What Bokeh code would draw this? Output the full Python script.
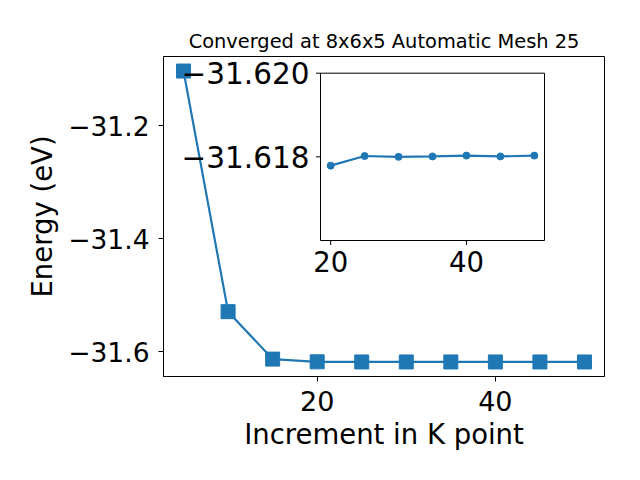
from bokeh.plotting import figure
from bokeh.models import Range1d, FixedTicker, CustomJSTickFormatter
from bokeh.embed import file_html
from bokeh.resources import INLINE
from bokeh.core.properties import value

# ---------------- data ----------------
kpoints = [5, 10, 15, 20, 25, 30, 35, 40, 45, 50]
energy = [-31.103, -31.529, -31.613, -31.61779, -31.61802, -31.61800,
          -31.61801, -31.61803, -31.61801, -31.61803]
inset_k = [20, 25, 30, 35, 40, 45, 50]
inset_energy = [-31.61779, -31.61802, -31.61800, -31.61801, -31.61803,
                -31.61801, -31.61803]

main_xticks = [20, 40]
main_yticks = [-31.6, -31.4, -31.2]
inset_xticks = [20, 40]
inset_xtick_labels = ["20", "40"]
inset_yticks = [-31.620, -31.618]
inset_ytick_labels = ["\u221231.620", "\u221231.618"]

title_text = "Converged at 8x6x5 Automatic Mesh 25"
xlabel = "Increment in K point"
ylabel = "Energy (eV)"

BLUE = "#1f77b4"
FONT = "DejaVu Sans"

# ---------------- layout ----------------
FW, FH = 441, 320


def padded(lo, hi, frac=0.05):
    s = hi - lo
    return lo - frac * s, hi + frac * s


x0, x1 = padded(min(kpoints), max(kpoints))
y0, y1 = padded(min(energy), max(energy))

p = figure(frame_width=FW, frame_height=FH,
           min_border_left=163, min_border_right=28,
           min_border_top=56, min_border_bottom=96,
           x_range=Range1d(x0, x1), y_range=Range1d(y0, y1),
           output_backend="svg", toolbar_location=None,
           title=title_text)

p.background_fill_color = "white"
p.border_fill_color = "white"
p.outline_line_color = "black"
p.outline_line_width = 1
p.grid.visible = False

p.title.text_font = FONT
p.title.text_font_size = "19.4px"
p.title.text_font_style = "normal"
p.title.text_color = "black"
p.title.align = "center"
p.title.standoff = 8

for ax in (p.xaxis[0], p.yaxis[0]):
    ax.axis_line_color = "black"
    ax.major_tick_line_color = "black"
    ax.major_tick_out = 5
    ax.major_tick_in = 0
    ax.minor_tick_line_color = None
    ax.major_label_text_font = FONT
    ax.major_label_text_color = "black"
    ax.axis_label_text_font = FONT
    ax.axis_label_text_font_size = "27.5px"
    ax.axis_label_text_font_style = "normal"
    ax.axis_label_text_color = "black"

p.xaxis.major_label_text_font_size = "27px"
p.yaxis.major_label_text_font_size = "26.5px"
p.xaxis.ticker = FixedTicker(ticks=main_xticks)
p.yaxis.ticker = FixedTicker(ticks=main_yticks)
p.yaxis.formatter = CustomJSTickFormatter(
    code="return tick.toFixed(1).replace('-', '\\u2212');")
p.xaxis.major_label_standoff = 9
p.yaxis.major_label_standoff = 9
p.xaxis.axis_label = xlabel
p.yaxis.axis_label = ylabel
p.xaxis.axis_label_standoff = 4
p.yaxis.axis_label_standoff = 7

# main series
p.line(kpoints, energy, line_color=BLUE, line_width=2.2)
p.scatter(kpoints, energy, marker="square", size=14, color=BLUE)

# ---------------- inset (drawn via extra ranges) ----------------
# inset box in frame pixels
L, R, T, B = 157, 381, 16.7, 184
ix0, ix1 = padded(min(inset_k), max(inset_k))
iy_bot, iy_top = -31.616, -31.620   # inverted axis as in the reference
sx = (ix1 - ix0) / (R - L)
sy = (iy_bot - iy_top) / (B - T)
p.extra_x_ranges = {"ix": Range1d(ix0 - L * sx, ix0 + (FW - L) * sx)}
p.extra_y_ranges = {"iy": Range1d(start=iy_top + (FH - T) * sy,
                                  end=iy_top - T * sy)}
kw = dict(x_range_name="ix", y_range_name="iy")

p.quad(left=[ix0], right=[ix1], bottom=[iy_bot], top=[iy_top],
       fill_color="white", line_color="black", line_width=1, **kw)
p.line(inset_k, inset_energy, line_color=BLUE, line_width=2.2, **kw)
p.scatter(inset_k, inset_energy, marker="circle", size=7, color=BLUE, **kw)

# inset ticks
tl = 4.5
p.segment(x0=[ix0 - tl * sx] * len(inset_yticks), x1=[ix0] * len(inset_yticks),
          y0=inset_yticks, y1=inset_yticks, line_color="black", line_width=1, **kw)
p.segment(x0=inset_xticks, x1=inset_xticks,
          y0=[iy_bot] * len(inset_xticks), y1=[iy_bot + tl * sy] * len(inset_xticks),
          line_color="black", line_width=1, **kw)

p.text(x=[ix0] * len(inset_yticks), y=inset_yticks, text=inset_ytick_labels,
       x_offset=-11, text_align="right", text_baseline="middle",
       text_font=value(FONT), text_font_size="29.5px", text_color="black", **kw)
p.text(x=inset_xticks, y=[iy_bot] * len(inset_xticks), text=inset_xtick_labels,
       y_offset=10, text_align="center", text_baseline="top",
       text_font=value(FONT), text_font_size="27.5px", text_color="black", **kw)

open("out.html", "w").write(file_html(p, INLINE))
